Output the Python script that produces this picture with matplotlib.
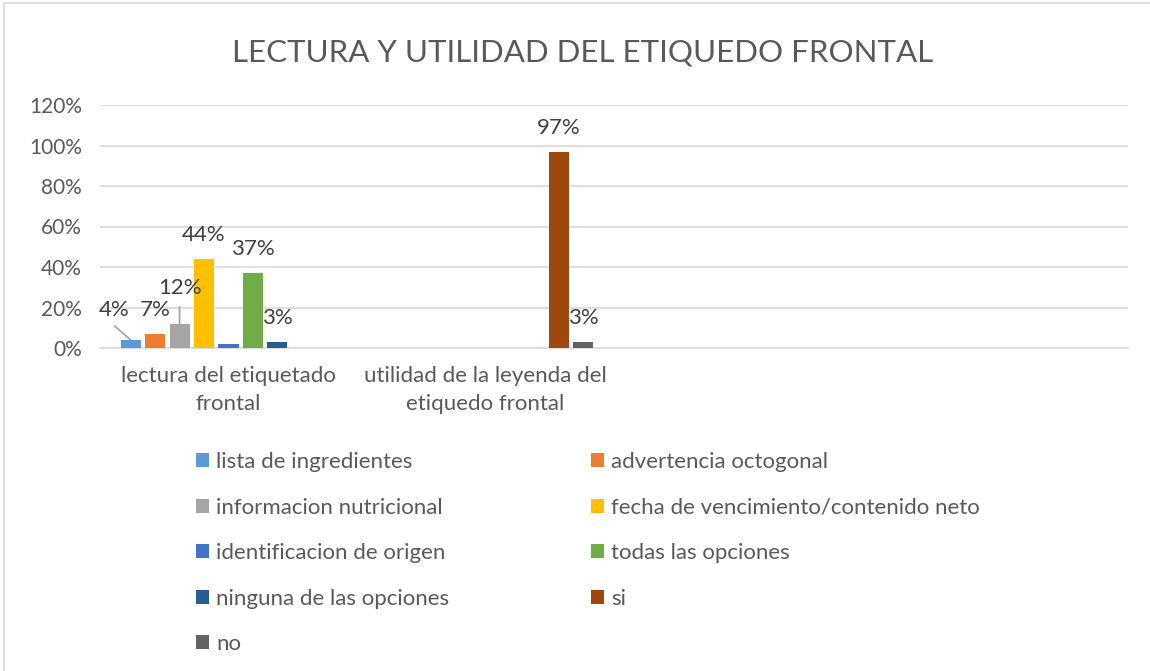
import matplotlib
matplotlib.use("Agg")
import matplotlib.pyplot as plt
import numpy as np
from matplotlib.patches import Rectangle, Patch

plt.rcParams['font.family'] = ['Lato', 'DejaVu Sans']

categories = ["lectura del etiquetado\nfrontal", "utilidad de la leyenda del\netiquedo frontal", "", ""]
series_names = ["lista de ingredientes", "advertencia octogonal", "informacion nutricional",
                "fecha de vencimiento/contenido neto", "identificacion de origen",
                "todas las opciones", "ninguna de las opciones", "si", "no"]
nan = np.nan
values = [
    [0.04, nan, nan, nan],
    [0.07, nan, nan, nan],
    [0.12, nan, nan, nan],
    [0.44, nan, nan, nan],
    [0.02, nan, nan, nan],
    [0.37, nan, nan, nan],
    [0.03, nan, nan, nan],
    [nan, 0.97, nan, nan],
    [nan, 0.03, nan, nan],
]
colors = ["#5B9BD5", "#ED7D31", "#A5A5A5", "#FFC000", "#4472C4",
          "#70AD47", "#255E91", "#9E480E", "#636363"]
yticks = [0, 0.2, 0.4, 0.6, 0.8, 1.0, 1.2]
ytick_labels = ["0%", "20%", "40%", "60%", "80%", "100%", "120%"]

W, H = 1150, 671
fig = plt.figure(figsize=(W / 100, H / 100), dpi=100)
fig.patch.set_facecolor("white")
fig.patches.append(Rectangle((4 / W, -0.01), 1.05, (671 - 3) / H + 0.01, transform=fig.transFigure,
                             fill=False, edgecolor="#D9D9D9", linewidth=1.2))

ax = fig.add_axes([100 / W, (H - 348) / H, 1028 / W, (348 - 105) / H])
txt = "#595959"

n = len(series_names)
slot = 1.0 / (n + 1.5)
bw = slot * 0.82
x = np.arange(len(categories))
# (series, category): (label dx px, label dy px, leader start offset px)
label_offsets = {
    (0, 0): (-16, 30, (-16, 14)),
    (2, 0): (0, 36, (0, 17)),
}
skip_labels = {(4, 0)}
for i in range(n):
    pos = x + (i - (n - 1) / 2) * slot
    vals = np.array(values[i], dtype=float)
    ax.bar(pos, np.nan_to_num(vals), width=bw, color=colors[i], zorder=3)
    for j, v in enumerate(vals):
        if np.isnan(v) or (i, j) in skip_labels:
            continue
        dx, dy, leader = label_offsets.get((i, j), (0, 24, None))
        ax.annotate(f"{v:.0%}", xy=(pos[j], v), xytext=(dx, dy), textcoords="offset pixels",
                    ha="center", va="center", fontsize=16, color="#404040", zorder=4)
        if leader is not None:
            ax.annotate("", xy=(pos[j], v), xytext=leader, textcoords="offset pixels",
                        arrowprops=dict(arrowstyle="-", color="#A6A6A6", lw=1.3,
                                        shrinkA=0, shrinkB=0), zorder=2)

ax.set_xlim(-0.5, len(categories) - 0.5)
ax.set_ylim(0, 1.2)
ax.set_yticks(yticks)
ax.set_yticklabels(ytick_labels)
ax.set_xticks(x)
ax.set_xticklabels(categories, fontsize=16, linespacing=1.5)
ax.tick_params(axis="both", length=0, labelcolor=txt)
ax.tick_params(axis="y", pad=13, labelsize=15)
ax.tick_params(axis="x", pad=13)
ax.grid(axis="y", color="#D9D9D9", linewidth=1.2, zorder=0)
for s in ["top", "right", "left"]:
    ax.spines[s].set_visible(False)
ax.spines["bottom"].set_color("#D9D9D9")
ax.spines["bottom"].set_linewidth(1.2)

fig.text(583 / W, 1 - 52 / H, "LECTURA Y UTILIDAD DEL ETIQUEDO FRONTAL", ha="center", va="center",
         fontsize=22.5, color=txt)

col_sets = [[0, 2, 4, 6, 8], [1, 3, 5, 7]]
col_x = [196, 591]
for cols, cx in zip(col_sets, col_x):
    handles = [Patch(facecolor=colors[k], edgecolor="none") for k in cols]
    labels = [series_names[k] for k in cols]
    fig.legend(handles, labels, ncol=1, loc="upper left", bbox_to_anchor=(cx / W, 1 - 452 / H),
               frameon=False, fontsize=16, handlelength=0.6, handleheight=0.6, handletextpad=0.3,
               labelspacing=1.15, borderpad=0, borderaxespad=0, labelcolor=txt)

fig.savefig("out.png", dpi=100, facecolor="white")
